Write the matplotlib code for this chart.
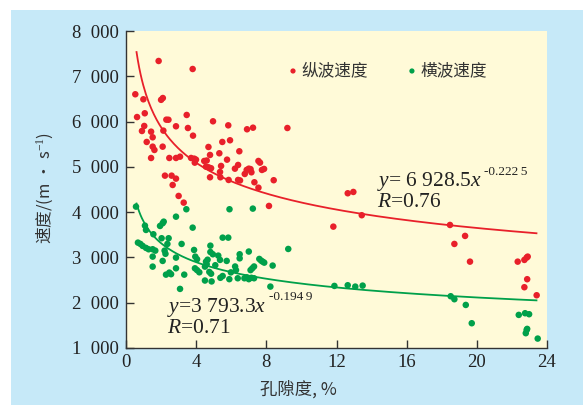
import numpy as np
import matplotlib
matplotlib.use("Agg")
import matplotlib.pyplot as plt
from matplotlib.patches import Rectangle

plt.rcParams['mathtext.fontset'] = 'custom'
plt.rcParams['mathtext.rm'] = 'Liberation Serif'
plt.rcParams['mathtext.it'] = 'Liberation Serif:italic'
plt.rcParams['font.family'] = ['Liberation Serif', 'Noto Sans CJK SC', 'DejaVu Sans']

# ---------------- data ----------------
p_x = [1.86, 3.80, 0.53, 0.99, 2.00, 2.10, 0.63, 1.07, 2.30, 2.42, 3.46, 2.85, 3.53, 4.96,
       5.83, 6.90, 7.24, 9.20, 1.04, 0.91, 1.43, 1.52, 2.13, 1.18, 1.52, 1.62, 2.09, 3.82,
       4.70, 5.49, 5.93, 6.46, 1.43, 2.47, 2.85, 3.08, 3.71, 3.89, 3.99, 3.92, 4.46, 4.60,
       4.79, 5.32, 5.76, 4.56, 4.71, 4.85, 5.42, 6.21, 6.39, 6.77, 6.88, 7.00, 7.10, 7.15,
       7.55, 7.64, 7.75, 7.87, 2.22, 2.60, 2.85, 2.66, 4.79, 5.36, 5.38, 5.85, 6.39, 6.50,
       7.32, 7.55, 8.42, 3.00, 3.29, 8.15, 11.82, 12.64, 12.96, 13.44, 18.47, 18.72, 19.33,
       19.61, 22.33, 22.71, 22.84, 22.90, 22.87, 22.71, 23.41]
p_v = [7338, 7161, 6603, 6492, 6480, 6520, 6100, 6183, 6042, 6040, 6146, 5896, 5858, 6006,
       5917, 5830, 5865, 5858, 5903, 5792, 5777, 5653, 5800, 5550, 5446, 5373, 5446, 5689,
       5439, 5550, 5587, 5344, 5196, 5196, 5196, 5225, 5196, 5181, 5159, 5093, 5130, 5140,
       5263, 5300, 5159, 5004, 4990, 4970, 5020, 4960, 5042, 4843, 4933, 4960, 4950, 4880,
       5130, 5093, 4932, 4954, 4806, 4806, 4740, 4600, 4770, 4887, 4770, 4711, 4711, 4700,
       4660, 4540, 4705, 4358, 4210, 4137, 3680, 4417, 4446, 3932, 3717, 3298, 3475,
       2907, 2907, 2945, 2996, 3018, 2519, 2342, 2165]

s_x = [0.57, 3.44, 5.90, 7.23, 2.85, 1.94, 2.09, 2.15, 1.08, 1.14, 1.56, 3.80, 2.03, 2.43,
       2.36, 3.17, 5.51, 5.83, 0.68, 0.82, 0.95, 1.14, 1.29, 1.52, 1.67, 2.20, 2.25, 3.88,
       4.81, 4.81, 4.95, 6.48, 7.00, 9.25, 1.52, 2.85, 3.95, 4.05, 5.26, 5.36, 5.74, 4.56,
       4.65, 6.48, 2.09, 7.60, 7.70, 7.79, 7.88, 1.52, 3.93, 4.05, 4.50, 4.60, 5.09, 6.22,
       6.27, 7.10, 7.20, 7.30, 8.36, 2.85, 2.47, 2.57, 2.28, 3.32, 4.18, 4.75, 4.85, 5.51,
       5.38, 5.98, 6.37, 6.75, 6.88, 7.00, 7.15, 7.30, 4.50, 4.88, 5.89, 3.08, 8.23, 11.88,
       12.64, 13.07, 13.49, 18.51, 18.72, 19.37, 19.71, 22.39, 22.75, 22.98, 22.84, 22.79,
       22.87, 23.47]
s_v = [4122, 4064, 4064, 4078, 3900, 3695, 3755, 3790, 3702, 3607, 3512, 3658, 3424, 3424,
       3298, 3298, 3437, 3437, 3327, 3298, 3254, 3210, 3180, 3181, 3150, 3150, 3080, 3165,
       3260, 3120, 3070, 3070, 3130, 3187, 3018, 2996, 3018, 2960, 3040, 2945, 2923, 2907,
       2950, 2980, 2923, 2967, 2930, 2907, 2885, 2797, 2760, 2720, 2797, 2850, 2828, 2800,
       2720, 2720, 2760, 2800, 2820, 2760, 2665, 2630, 2620, 2620, 2672, 2680, 2640, 2590,
       2550, 2670, 2540, 2540, 2560, 2520, 2550, 2540, 2490, 2470, 2520, 2305, 2356, 2371,
       2386, 2356, 2378, 2143, 2077, 1951, 1547, 1731, 1768, 1746, 1400, 1327,
       1422, 1208]

# power-law fits  y = a * x^b
p_fit = (6780.0, -0.2067)
s_fit = (3793.3, -0.1949)
fit_range = (0.6, 23.4)

x_ticks = [0, 4, 8, 12, 16, 20, 24]
y_ticks = [1000, 2000, 3000, 4000, 5000, 6000, 7000, 8000]
y_ticklabels = ['1\u2007000', '2\u2007000', '3\u2007000', '4\u2007000',
                '5\u2007000', '6\u2007000', '7\u2007000', '8\u2007000']

legend_labels = ['纵波速度', '横波速度']
p_eq = ('$\\mathit{y}$= 6 928.5$\\mathit{x}$', '-0.222\u20095', '$\\mathit{R}$=0.76')
s_eq = ('$\\mathit{y}$=3 793.3$\\mathit{x}$', '-0.194\u20099', '$\\mathit{R}$=0.71')

RED = '#e8202a'
GREEN = '#00a04a'
BLUE_BG = '#c6e9f8'
CREAM = '#fffad8'
DARK = '#333333'
TXT = '#222222'

fig = plt.figure(figsize=(5.83, 4.05), dpi=100)
fig.patch.set_facecolor('white')
fig.patches.append(Rectangle((11 / 583, 0), 1 - 11 / 583, 1 - 10 / 405,
                             transform=fig.transFigure, facecolor=BLUE_BG,
                             edgecolor='none', zorder=-10))

ax = fig.add_axes([126 / 583, 1 - 348 / 405, (547 - 126) / 583, (348 - 31) / 405])
ax.set_facecolor(CREAM)
ax.set_xlim(0, 24)
ax.set_ylim(1000, 8000)

ax.scatter(p_x, p_v, s=22, color=RED, edgecolors='none', zorder=3)
ax.scatter(s_x, s_v, s=22, color=GREEN, edgecolors='none', zorder=3)

xx = np.linspace(fit_range[0], fit_range[1], 300)
ax.plot(xx, p_fit[0] * xx ** p_fit[1], color=RED, lw=1.3, zorder=2)
ax.plot(xx, s_fit[0] * xx ** s_fit[1], color=GREEN, lw=1.3, zorder=2)

for side in ['top', 'right']:
    ax.spines[side].set_visible(False)
for side in ['left', 'bottom']:
    ax.spines[side].set_color(DARK)
    ax.spines[side].set_linewidth(1.0)

ax.set_xticks(x_ticks)
ax.set_xticklabels([str(t) for t in x_ticks])
ax.set_yticks(y_ticks)
ax.set_yticklabels(y_ticklabels)
ax.tick_params(direction='in', length=6, width=1.0, color=DARK, labelsize=13.5,
               labelcolor=TXT)
ax.tick_params(axis='x', pad=4)
ax.tick_params(axis='y', pad=5)

# legend (manual)
ax.scatter([9.52], [7117], s=14, color=RED, edgecolors='none', clip_on=False)
ax.text(10.0, 7117, legend_labels[0], family=['Noto Sans CJK SC'], fontsize=12,
        color='#333333', va='center', ha='left')
ax.scatter([16.3], [7117], s=14, color=GREEN, edgecolors='none', clip_on=False)
ax.text(16.8, 7117, legend_labels[1], family=['Noto Sans CJK SC'], fontsize=12,
        color='#333333', va='center', ha='left')


def equation(x, y, y_sup, y2, parts):
    main = ax.text(x, y, parts[0], fontsize=15.5, color=TXT, va='center', ha='left')
    ax.annotate(parts[1], xy=(1, y_sup), xycoords=(main, 'data'), xytext=(1.5, 0),
                textcoords='offset points', fontsize=9.5, color=TXT,
                va='center', ha='left')
    ax.text(x, y2, parts[2], fontsize=15.5, color=TXT, va='center', ha='left')


equation(14.3, 4673, 4887, 4203, p_eq)
equation(2.35, 1885, 2135, 1437, s_eq)

fig.text(45 / 583, 1 - 188 / 405, '速度/(m • s$^{-1}$)', rotation=90,
         family=['Noto Sans CJK SC', 'DejaVu Sans'], fontsize=12, color='#333333',
         ha='center', va='center')
fig.text(298 / 583, 1 - 389 / 405, '孔隙度, %', family=['Noto Sans CJK SC', 'DejaVu Sans'],
         fontsize=12.5, color='#333333', ha='center', va='center')

fig.savefig('out.png', dpi=100, facecolor=fig.get_facecolor())
